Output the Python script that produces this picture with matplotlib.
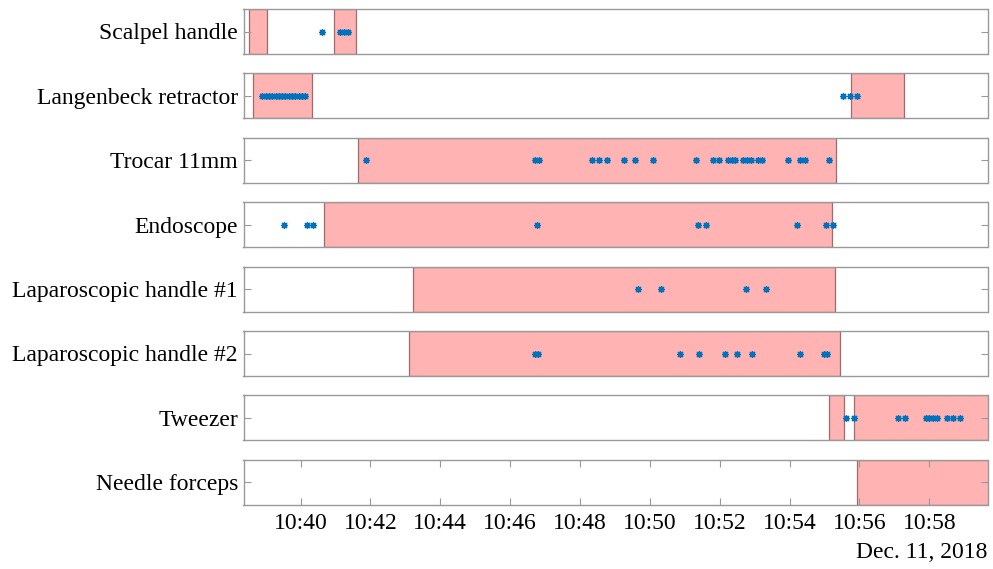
import matplotlib
matplotlib.use("Agg")
import matplotlib.pyplot as plt
import matplotlib.dates as mdates
from datetime import datetime

plt.rcParams['font.family'] = ['Liberation Serif', 'DejaVu Serif']

DATE = "2018-12-11"
instruments = ["Scalpel handle", "Langenbeck retractor", "Trocar 11mm", "Endoscope",
               "Laparoscopic handle #1", "Laparoscopic handle #2", "Tweezer", "Needle forceps"]

# usage spans (start, end) per instrument
scalpel_spans = [("10:38:31", "10:39:02"), ("10:40:58", "10:41:35")]
langenbeck_spans = [("10:38:39", "10:40:20"), ("10:55:45", "10:57:17")]
trocar_spans = [("10:41:38", "10:55:20")]
endoscope_spans = [("10:40:41", "10:55:13")]
lap1_spans = [("10:43:13", "10:55:18")]
lap2_spans = [("10:43:07", "10:55:26")]
tweezer_spans = [("10:55:08", "10:55:34"), ("10:55:50", "11:00:00")]
needle_spans = [("10:55:55", "11:00:00")]

# detection events per instrument
scalpel_events = ["10:40:37", "10:41:08", "10:41:15", "10:41:21"]
langenbeck_events = ["10:38:54", "10:39:00", "10:39:05", "10:39:11", "10:39:17", "10:39:23",
                     "10:39:28", "10:39:34", "10:39:40", "10:39:45", "10:39:51", "10:39:57",
                     "10:40:02", "10:40:08", "10:55:31", "10:55:44", "10:55:56"]
trocar_events = ["10:41:53", "10:46:43", "10:46:49", "10:48:20", "10:48:33", "10:48:47",
                 "10:49:15", "10:49:34", "10:50:05", "10:51:19", "10:51:49", "10:51:58",
                 "10:52:15", "10:52:21", "10:52:27", "10:52:40", "10:52:47", "10:52:53",
                 "10:53:05", "10:53:12", "10:53:58", "10:54:18", "10:54:27", "10:55:08"]
endoscope_events = ["10:39:31", "10:40:11", "10:40:22", "10:46:46", "10:51:22", "10:51:37",
                    "10:54:13", "10:55:02", "10:55:15"]
lap1_events = ["10:49:40", "10:50:20", "10:52:45", "10:53:19"]
lap2_events = ["10:46:42", "10:46:48", "10:50:52", "10:51:25", "10:52:09", "10:52:30",
               "10:52:56", "10:54:18", "10:55:00", "10:55:05"]
tweezer_events = ["10:55:37", "10:55:50", "10:57:06", "10:57:18", "10:57:55", "10:58:00",
                  "10:58:06", "10:58:13", "10:58:30", "10:58:40", "10:58:52"]
needle_events = []

spans = [scalpel_spans, langenbeck_spans, trocar_spans, endoscope_spans,
         lap1_spans, lap2_spans, tweezer_spans, needle_spans]
events = [scalpel_events, langenbeck_events, trocar_events, endoscope_events,
          lap1_events, lap2_events, tweezer_events, needle_events]

x_start, x_end = "10:38:22", "10:59:40"
tick_times = ["10:40", "10:42", "10:44", "10:46", "10:48", "10:50", "10:52", "10:54", "10:56", "10:58"]


def T(s):
    fmt = "%H:%M:%S" if s.count(":") == 2 else "%H:%M"
    return datetime.strptime(DATE + " " + s, "%Y-%m-%d " + fmt)


W, H = 993, 569
fig = plt.figure(figsize=(W / 100, H / 100), dpi=100)
left_px, right_px = 243.5, 987.5
top0, step, h = 9.0, 64.4, 45.0
grey = (0.6, 0.6, 0.6)
pink = (1.0, 0.70, 0.70)
blue = "#0072BD"
FS = 17

for i, name in enumerate(instruments):
    top = top0 + step * i
    ax = fig.add_axes([left_px / W, 1 - (top + h) / H, (right_px - left_px) / W, h / H])
    for s, e in spans[i]:
        ax.axvspan(T(s), T(e), ymin=0, ymax=1, facecolor=pink,
                   edgecolor=(0.62, 0.42, 0.42), linewidth=0.9, zorder=1)
    if events[i]:
        ax.plot([T(t) for t in events[i]], [0.5] * len(events[i]), linestyle="none",
                marker=(8, 2, 0), markersize=5, markeredgewidth=0.9, color=blue, zorder=3)
    ax.set_xlim(T(x_start), T(x_end))
    ax.set_ylim(0, 1)
    ax.set_yticks([0.5])
    ax.set_yticklabels([name], fontsize=FS)
    ax.minorticks_off()
    ax.tick_params(axis="y", direction="in", length=5, width=0.8, color=grey,
                   left=True, right=True, pad=4)
    for sp in ax.spines.values():
        sp.set_color(grey)
        sp.set_linewidth(1.0)
        sp.set_zorder(5)
    if i == len(instruments) - 1:
        ax.set_xticks([T(t) for t in tick_times])
        ax.xaxis.set_major_formatter(mdates.DateFormatter("%H:%M"))
        ax.tick_params(axis="x", direction="in", length=5, width=0.8, color=grey,
                       top=True, bottom=True, labelsize=FS, pad=6)
    else:
        ax.set_xticks([])
        ax.tick_params(axis="x", which="both", bottom=False, top=False,
                       labelbottom=False)

fig.text(right_px / W, 1 - 553 / H, "Dec. 11, 2018", ha="right", va="center", fontsize=FS)

fig.savefig("out.png", dpi=100)
